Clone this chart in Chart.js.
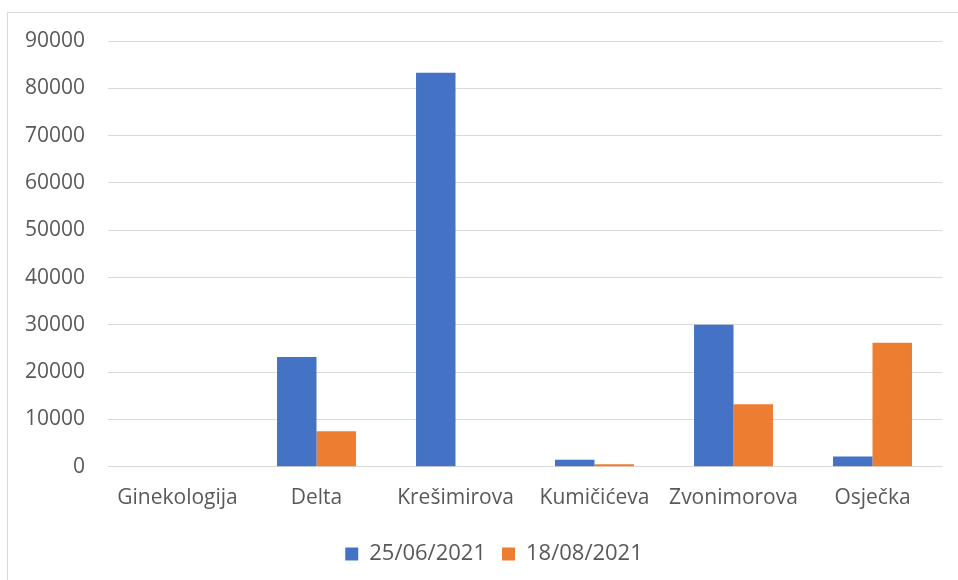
<!DOCTYPE html>
<html>
<head>
<meta charset="utf-8">
<script src="https://cdn.jsdelivr.net/npm/chart.js@4"></script>
<style>
  html, body { margin: 0; padding: 0; background: #fff; }
  #wrap { position: relative; width: 958px; height: 580px; overflow: hidden; }
  #frame { position: absolute; left: 7px; top: 12px; width: 970px; height: 600px; border: 1px solid #d9d9d9; box-sizing: border-box; }
  canvas { position: absolute; left: 0; top: 0; }
</style>
</head>
<body>
<div id="wrap">
  <div id="frame"></div>
  <canvas id="c" width="958" height="580"></canvas>
</div>
<script>
const categories = ['Ginekologija', 'Delta', 'Krešimirova', 'Kumičićeva', 'Zvonimorova', 'Osječka'];
const seriesNames = ['25/06/2021', '18/08/2021'];
const series1 = [0, 23200, 83300, 1500, 30000, 2200];
const series2 = [0, 7500, 0, 550, 13200, 26200];
const yTicks = [0, 10000, 20000, 30000, 40000, 50000, 60000, 70000, 80000, 90000];

const textColor = '#595959';
const fontFamily = '"Open Sans", "DejaVu Sans", sans-serif';

const legendShift = {
  id: 'legendShift',
  afterLayout(chart) {
    if (chart.legend) { chart.legend.left += 46; }
  }
};

new Chart(document.getElementById('c'), {
  type: 'bar',
  data: {
    labels: categories,
    datasets: [
      { label: seriesNames[0], data: series1, backgroundColor: '#4472C4', barPercentage: 1, categoryPercentage: 0.568 },
      { label: seriesNames[1], data: series2, backgroundColor: '#ED7D31', barPercentage: 1, categoryPercentage: 0.568 }
    ]
  },
  plugins: [legendShift],
  options: {
    responsive: false,
    animation: false,
    devicePixelRatio: 1,
    layout: { padding: { top: 41, right: 16, left: 0, bottom: 5 } },
    plugins: {
      tooltip: { enabled: false },
      legend: {
        position: 'bottom',
        labels: {
          color: textColor,
          font: { family: fontFamily, size: 22 },
          boxWidth: 13,
          boxHeight: 13,
          padding: 16
        }
      }
    },
    scales: {
      y: {
        min: 0,
        max: 90000,
        afterBuildTicks: (scale) => { scale.ticks = yTicks.map(v => ({ value: v })); },
        afterFit: (scale) => { scale.width = 108; },
        grid: { color: '#d9d9d9', lineWidth: 1, drawTicks: false },
        border: { display: false },
        ticks: { color: textColor, font: { family: fontFamily, size: 21 }, padding: 23, callback: (v) => String(v) }
      },
      x: {
        grid: { display: false },
        border: { display: false },
        afterFit: (scale) => { scale.height += 5; },
        ticks: { color: textColor, font: { family: fontFamily, size: 21 }, padding: 11, maxRotation: 0 }
      }
    }
  }
});
</script>
</body>
</html>
